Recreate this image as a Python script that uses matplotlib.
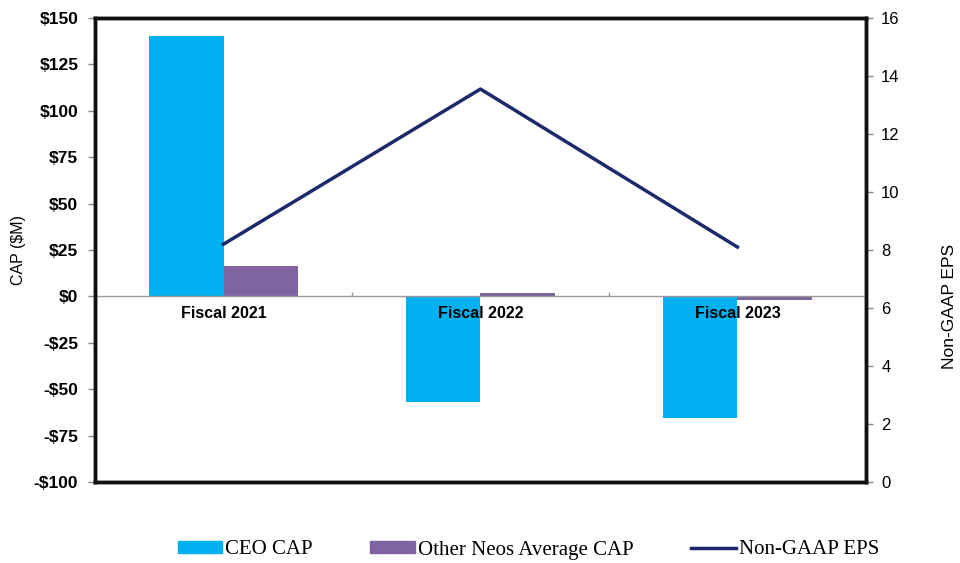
import numpy as np
import matplotlib.pyplot as plt
from matplotlib.patches import Patch
from matplotlib.lines import Line2D
from matplotlib.ticker import FuncFormatter

plt.rc('font', family='Liberation Sans')

# Data
years = ['Fiscal 2021', 'Fiscal 2022', 'Fiscal 2023']
ceo_cap = [140.5, -57.0, -65.5]        # $M
neo_cap = [16.5, 2.0, -2.0]            # $M
eps = [8.2, 13.55, 8.1]

ceo_color = '#00B0F0'
neo_color = '#8064A2'
eps_color = '#1B2A6B'

x = np.arange(len(years))
w = 0.29

fig = plt.figure(figsize=(9.6, 5.63), dpi=100)
ax = fig.add_axes([0.099, 0.144, 0.803, 0.824])

ax.bar(x - w / 2, ceo_cap, w, color=ceo_color, zorder=2)
ax.bar(x + w / 2, neo_cap, w, color=neo_color, zorder=2)

# category axis at zero
ax.axhline(0, color='#999999', lw=1, zorder=3)
ax.vlines(x[:-1] + 0.5, 0, 2.5, color='#999999', lw=1, zorder=3)
for xi, lab in zip(x, years):
    ax.text(xi, -5, lab, ha='center', va='top', fontsize=11.5,
            fontweight='bold', zorder=4)

ax.set_xlim(-0.5, len(years) - 0.5)
ax.set_xticks([])
ax.set_ylim(-100, 150)
ax.set_yticks(np.arange(-100, 151, 25))
ax.yaxis.set_major_formatter(FuncFormatter(
    lambda v, p: ('-$%d' % -v) if v < 0 else ('$%d' % v)))
for lab in ax.get_yticklabels():
    lab.set_fontweight('bold')
ax.tick_params(axis='y', labelsize=12.5, length=5, width=1, color='#888888', pad=7)
ax.set_ylabel('CAP ($M)', fontsize=11.5, labelpad=6)

for s in ax.spines.values():
    s.set_linewidth(2.5)
    s.set_color('#111111')

ax2 = ax.twinx()
ax2.plot(x, eps, color=eps_color, lw=2.5, zorder=5)
ax2.set_ylim(0, 16)
ax2.set_yticks(np.arange(0, 17, 2))
ax2.tick_params(axis='y', labelsize=12, length=5, width=1, color='#888888', pad=6)
for s in ax2.spines.values():
    s.set_linewidth(2.5)
    s.set_color('#111111')

fig.text(950 / 960, 1 - 306 / 563, 'Non-GAAP EPS', rotation=90,
         ha='center', va='center', fontsize=12.5)

handles = [Patch(color=ceo_color), Patch(color=neo_color),
           Line2D([0], [0], color=eps_color, lw=2.5)]
fig.legend(handles, ['CEO CAP', 'Other Neos Average CAP', 'Non-GAAP EPS'],
           loc='center', bbox_to_anchor=(0.5505, 13 / 563), ncol=3,
           frameon=False, prop={'family': 'Liberation Serif', 'size': 15},
           handlelength=2.15, handleheight=0.55, handletextpad=0.15,
           columnspacing=2.75, borderpad=0, borderaxespad=0)

plt.savefig('out.png', dpi=100)
